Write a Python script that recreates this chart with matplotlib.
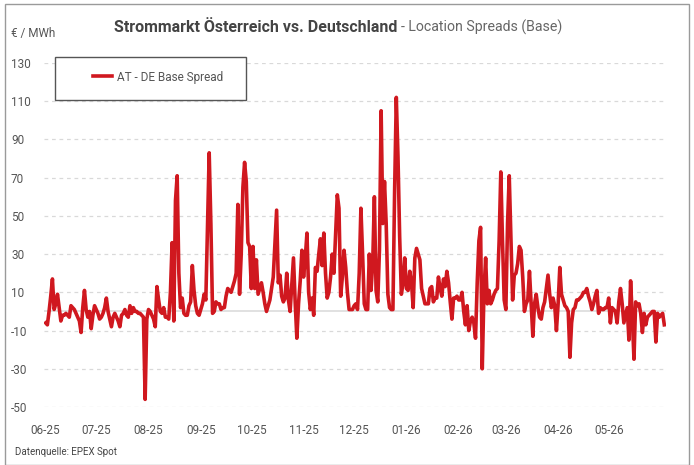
import numpy as np
import pandas as pd
import matplotlib
matplotlib.use("Agg")
import matplotlib.pyplot as plt
import matplotlib.dates as mdates
from matplotlib.patches import Rectangle

# daily AT - DE base spread in EUR/MWh
start_date = "2025-06-01"
spread = [
    -6, -7, 0, 8, 17, 1, 4, 9, 2, -5,
    -2, -2, -1, -2, -3, 3, 2, 1, -1, -3,
    -5, -11, 2, 11, 1, -3, 0, -9, -2, 3,
    1, -1, -4, -3, -1, 2, 7, 0, -4, -8,
    -3, -1, -3, -5, -8, -2, -1, 1, -2, -3,
    3, -1, 2, 0, 0, -1, -1, -2, -3, -46,
    -4, 1, 0, -2, -4, -8, 13, 6, 0, -1,
    2, -3, -3, -4, 10, 36, -5, 58, 71, 20,
    2, 7, -1, -2, -2, 3, 5, 24, 11, 3,
    -1, -2, 1, 4, 9, 6, 45, 83, 46, -1,
    0, 5, 4, 4, 1, 2, 2, 8, 12, 11,
    10, 13, 16, 20, 56, 9, 30, 65, 78, 68,
    36, 34, 12, 34, 12, 27, 9, 12, 15, 10,
    4, 0, 3, 6, 12, 18, 35, 53, 15, 19,
    8, 5, 7, 20, 6, 0, 14, 28, 5, -14,
    4, 16, 32, 18, 28, 41, 10, 1, 7, -2,
    23, 21, 30, 38, 24, 41, 20, 7, 10, 18,
    30, 20, 40, 61, 54, 8, 18, 32, 23, 10,
    1, 1, 1, 3, 4, 1, 20, 54, 30, 4,
    1, 1, 30, 11, 25, 60, 11, 5, 32, 105,
    46, 68, 46, 9, 2, 1, 1, 63, 112, 81,
    39, 9, 15, 28, 12, 11, 21, 15, 2, 28,
    33, 30, 27, 12, 8, 4, 4, 4, 12, 13,
    5, 7, 7, 18, 12, 8, 17, 13, 21, 15,
    5, -4, 7, 7, 8, 6, 6, 10, 0, -7,
    3, -10, -5, -3, -6, -14, 15, 37, 44, -30,
    10, 28, 4, 11, 4, 6, 9, 11, 12, 37,
    73, 37, 6, 1, 46, 71, 39, 6, 19, 20,
    25, 34, 32, 18, 0, 4, 6, 21, 4, -13,
    4, 9, 2, -3, -4, 2, 5, 12, 19, 9,
    2, 7, 3, -10, 4, 23, 9, 6, 3, 2,
    0, -24, -6, 1, 2, 6, 6, 7, 8, 10,
    10, 12, 8, 5, 1, 4, 8, 11, -1, 2,
    1, 1, 2, 2, 7, -6, 2, 1, 0, -6,
    5, 12, 4, -6, -2, 2, -15, 16, -3, -25,
    5, 3, 4, -1, -11, -1, -7, -3, -2, -1,
    0, 0, -16, -1, -3, -2, -1, -7,
]
dates = pd.date_range(start_date, periods=len(spread), freq="D")
series_label = "AT - DE Base Spread"
y_ticks = [-50, -30, -10, 10, 30, 50, 70, 90, 110, 130]
month_ticks = pd.date_range("2025-06-01", "2026-05-01", freq="MS")

red = "#d0181f"
grey_txt = "#555555"
plt.rcParams["font.family"] = ["Roboto", "DejaVu Sans"]
plt.rcParams["axes.unicode_minus"] = False

W, H = 694, 465
fig = plt.figure(figsize=(W / 100, H / 100), dpi=100)
ax = fig.add_axes([44 / W, 1 - 407 / H, (666 - 44) / W, (407 - 63) / H])

ax.plot(dates, spread, color=red, lw=2.6, solid_joinstyle="round", label=series_label, zorder=3)
ax.axhline(0, color="#dcdcdc", lw=1.2, zorder=1)

ax.set_ylim(-50, 130)
ax.set_yticks(y_ticks)
ax.set_xlim(dates[0] - pd.Timedelta(days=1), dates[-1] + pd.Timedelta(days=1))
ax.set_xticks(month_ticks)
ax.xaxis.set_major_formatter(mdates.DateFormatter("%m-%y"))
ax.grid(axis="y", color="#d9d9d9", lw=0.9, ls=(0, (3, 3)))
ax.grid(axis="x", visible=False)
for s in ax.spines.values():
    s.set_visible(False)
ax.tick_params(axis="both", length=0, labelsize=8.5, colors=grey_txt)
ax.tick_params(axis="x", pad=12)
ax.tick_params(axis="y", pad=33 * 0.72)
for lbl in ax.get_yticklabels():
    lbl.set_horizontalalignment("left")

# legend with its own box
fig.patches.append(Rectangle((55 / W, 1 - 100 / H), (246 - 55) / W, (100 - 57) / H,
                             transform=fig.transFigure, fill=True, facecolor="white",
                             edgecolor="#555555", lw=1.0, zorder=5))
leg = fig.legend(loc="center left", bbox_to_anchor=(82 / W, 1 - 77 / H), frameon=False,
                 fontsize=8.5, handlelength=1.6, handletextpad=0.5, labelcolor=grey_txt)
leg.set_zorder(6)

# outer frame
fig.patches.append(Rectangle((5 / W, 0), (689 - 5) / W, 1 - 4 / H, transform=fig.transFigure,
                             fill=False, edgecolor="#9a9a9a", lw=1.0))

fig.text(397 / W, 1 - 27 / H, "Strommarkt Österreich vs. Deutschland", ha="right", va="center",
         fontsize=11.5, fontweight="bold", color="#444444")
fig.text(401 / W, 1 - 27 / H, "- Location Spreads (Base)", ha="left", va="center",
         fontsize=10.2, color="#666666")
fig.text(11 / W, 1 - 33 / H, "€ / MWh", ha="left", va="center", fontsize=8.5, color=grey_txt)
fig.text(15 / W, 1 - 452 / H, "Datenquelle: EPEX Spot", ha="left", va="center",
         fontsize=7, color="#444444")

fig.savefig("out.png", dpi=100)
